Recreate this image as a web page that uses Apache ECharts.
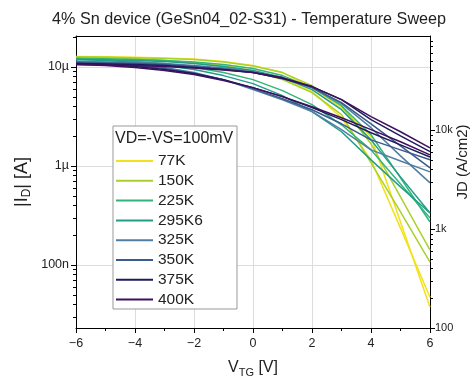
<!DOCTYPE html>
<html>
<head>
<meta charset="utf-8">
<script src="https://cdn.jsdelivr.net/npm/echarts@6/dist/echarts.min.js"></script>
<style>html,body{margin:0;padding:0;background:#fff}#c{width:471px;height:383px}</style>
</head>
<body>
<div id="c"></div>
<script>
// Gate voltage points (V)
var vtg = [-6, -5, -4, -3, -2, -1, 0, 1, 2, 3, 4, 5, 6];
// Temperatures (legend)
var temps = ['77K', '150K', '225K', '295K6', '325K', '350K', '375K', '400K'];
// |ID| in microamps, sweep A
var id77A   = [12.72, 12.63, 12.48, 12.28, 12.00, 11.32, 10.31, 8.75, 6.17, 3.87, 1.97, 0.271, 0.0373];
var id150A  = [12.57, 12.48, 12.34, 12.14, 11.86, 11.19, 10.19, 8.75, 6.46, 4.05, 1.67, 0.485, 0.141];
var id225A  = [12.14, 12.05, 11.86, 11.58, 11.19, 10.55, 9.61, 8.16, 6.17, 4.05, 2.06, 0.756, 0.271];
var id295A  = [11.86, 11.72, 11.58, 11.32, 10.80, 10.07, 9.17, 7.79, 5.89, 3.69, 1.83, 0.774, 0.334];
var id325A  = [11.32, 11.19, 11.06, 10.80, 10.31, 9.72, 8.96, 7.79, 6.17, 4.25, 2.43, 1.26, 0.673];
var id350A  = [11.06, 10.93, 10.80, 10.55, 10.07, 9.50, 8.75, 7.61, 6.17, 4.35, 2.66, 1.59, 0.954];
var id375A  = [10.80, 10.68, 10.55, 10.31, 9.84, 9.39, 8.75, 7.61, 6.32, 4.66, 2.93, 2.01, 1.39];
var id400A  = [10.55, 10.43, 10.31, 10.07, 9.72, 9.28, 8.75, 7.79, 6.32, 4.66, 3.14, 2.21, 1.52];
// |ID| in microamps, sweep B
var id77B   = [12.42, 12.28, 12.00, 11.58, 11.06, 10.31, 9.17, 7.61, 5.62, 3.06, 1.15, 0.235, 0.0471];
var id150B  = [12.57, 12.42, 12.14, 11.58, 10.93, 10.07, 8.96, 7.43, 5.49, 3.29, 1.07, 0.342, 0.1065];
var id225B  = [12.14, 11.86, 11.32, 10.80, 9.84, 8.75, 7.43, 5.75, 4.15, 2.60, 1.45, 0.657, 0.297];
var id295B  = [11.86, 11.58, 11.06, 10.31, 9.39, 8.16, 6.77, 5.12, 3.53, 2.21, 1.15, 0.613, 0.334];
var id325B  = [11.32, 11.06, 10.55, 9.84, 8.75, 7.43, 5.89, 4.66, 3.53, 2.32, 1.45, 1.12, 0.869];
var id350B  = [11.06, 10.80, 10.31, 9.61, 8.55, 7.43, 6.03, 4.77, 3.69, 2.66, 1.83, 1.45, 1.15];
var id375B  = [10.80, 10.55, 10.07, 9.39, 8.55, 7.43, 6.17, 5.00, 3.87, 2.93, 2.16, 1.63, 1.23];
var id400B  = [10.55, 10.31, 9.84, 9.17, 8.36, 7.26, 6.17, 5.00, 3.96, 3.06, 2.32, 1.75, 1.29];
// Axis ranges
var idMin = 2.3e-8, idMax = 2.05e-5;      // left axis (A)
var jdMin = 100, jdMax = 89130;           // right axis (A/cm2)
var colors = ['#f2e11c', '#a9d12b', '#33b47a', '#249c8a', '#4f7ea2', '#3a5a8e', '#1d1b5c', '#3f105e'];

var seriesA = [id77A, id150A, id225A, id295A, id325A, id350A, id375A, id400A];
var seriesB = [id77B, id150B, id225B, id295B, id325B, id350B, id375B, id400B];

var FONT = "'Liberation Sans', Arial, sans-serif";

function toPts(arr) { return vtg.map(function (v, i) { return [v, arr[i] * 1e-6]; }); }
function isDecade(v) { var l = Math.log10(v); return Math.abs(l - Math.round(l)) < 1e-6; }
function fmtSI(v) {
  if (!isDecade(v)) return '';
  var l = Math.round(Math.log10(v));
  var pref = { '-9': 'n', '-6': 'µ', '-3': 'm', '0': '', '3': 'k' };
  var base = Math.floor(l / 3) * 3;
  return Math.pow(10, l - base) + pref[String(base)];
}
// minor log tick values (2..9 x 10^n) inside a range
function minorVals(lo, hi) {
  var out = [];
  for (var e = Math.floor(Math.log10(lo)); e <= Math.ceil(Math.log10(hi)); e++) {
    for (var k = 2; k <= 9; k++) {
      var v = k * Math.pow(10, e);
      if (v > lo && v < hi) out.push(v);
    }
  }
  return out;
}

var series = [];
temps.forEach(function (t, i) {
  [seriesA[i], seriesB[i]].forEach(function (arr) {
    series.push({
      name: t, type: 'line', xAxisIndex: 0, yAxisIndex: 0,
      data: toPts(arr), symbol: 'none', smooth: false,
      lineStyle: { width: 1.5, color: colors[i] }, itemStyle: { color: colors[i] },
      emphasis: { disabled: true }, animation: false
    });
  });
});
// minor ticks of the log axes, placed through the axes' own scales
function tickSeries(yIdx, xEdge, dir, vals) {
  return {
    type: 'custom', name: 'minor' + yIdx, xAxisIndex: 0, yAxisIndex: yIdx, clip: false, silent: true, z: 5,
    data: vals.map(function (v) { return [xEdge, v]; }),
    renderItem: function (params, api) {
      var p = api.coord([api.value(0), api.value(1)]);
      var y = Math.round(p[1]) + 0.5;
      return { type: 'line', shape: { x1: p[0], y1: y, x2: p[0] + dir * 3, y2: y }, style: { stroke: '#000', lineWidth: 1 } };
    },
    animation: false
  };
}
series.push(tickSeries(0, -6, -1, minorVals(idMin, idMax)));
series.push(tickSeries(1, 6, 1, minorVals(jdMin, jdMax)));

var chart = echarts.init(document.getElementById('c'), null, { renderer: 'canvas' });
chart.setOption({
  animation: false,
  textStyle: { fontFamily: FONT },
  title: {
    text: '4% Sn device (GeSn04_02-S31) - Temperature Sweep',
    left: 47, top: 7,
    textStyle: { fontSize: 16.2, fontWeight: 'normal', color: '#222', fontFamily: FONT }
  },
  grid: { left: 76, right: 41, top: 36, bottom: 55, containLabel: false, outerBoundsMode: 'none' },
  xAxis: [{
    type: 'value', min: -6, max: 6, interval: 2, position: 'bottom',
    name: '{v|V}{s|TG}{v| [V]}', nameLocation: 'middle', nameGap: 30, nameMoveOverlap: false,
    nameTextStyle: { rich: { v: { fontSize: 16, color: '#222', fontFamily: FONT }, s: { fontSize: 11, color: '#222', verticalAlign: 'bottom', padding: [9, 0, 0, 0], fontFamily: FONT } } },
    axisLine: { show: true, lineStyle: { color: '#000', width: 1 } },
    axisTick: { show: true, length: 5, lineStyle: { color: '#000' } },
    minorTick: { show: true, splitNumber: 2, length: 3, lineStyle: { color: '#000' } },
    axisLabel: { fontSize: 12.5, color: '#222', margin: 9, formatter: function (v) { return String(v).replace('-', '\u2212'); } },
    splitLine: { show: true, lineStyle: { color: '#dcdcdc', width: 1 } }
  }, {
    type: 'value', min: -6, max: 6, position: 'top',
    axisLine: { show: true, lineStyle: { color: '#000', width: 1 } },
    axisTick: { show: false }, axisLabel: { show: false }, splitLine: { show: false }
  }],
  yAxis: [{
    type: 'log', min: idMin, max: idMax, position: 'left', logBase: 10,
    name: '{t||I}{s|D}{t|| [A]}', nameLocation: 'middle', nameGap: 43, nameRotate: 90, nameMoveOverlap: false,
    nameTextStyle: { rich: { t: { fontSize: 18, color: '#222', fontFamily: FONT }, s: { fontSize: 12, color: '#222', padding: [10, 0, 0, 0], fontFamily: FONT } } },
    axisLine: { show: true, onZero: false, lineStyle: { color: '#000', width: 1 } },
    axisTick: { show: true, length: 5, lineStyle: { color: '#000' } },
    axisLabel: { fontSize: 12.5, color: '#222', margin: 7, formatter: fmtSI, showMinLabel: false, showMaxLabel: false },
    splitLine: { show: true, lineStyle: { color: '#dcdcdc', width: 1 } }
  }, {
    type: 'log', min: jdMin, max: jdMax, position: 'right', logBase: 10,
    name: 'JD (A/cm2)', nameLocation: 'middle', nameGap: 25, nameRotate: 90, nameMoveOverlap: false,
    nameTextStyle: { fontSize: 15, color: '#222', fontFamily: FONT, padding: [0, 0, 0, 40] },
    axisLine: { show: true, onZero: false, lineStyle: { color: '#000', width: 1 } },
    axisTick: { show: true, length: 5, lineStyle: { color: '#000' } },
    axisLabel: { fontSize: 11, color: '#222', margin: 5, formatter: fmtSI, showMaxLabel: false },
    splitLine: { show: false }
  }],
  legend: {
    orient: 'vertical', left: 113, top: 126,
    padding: [27, 4, 4, 2],
    itemWidth: 37, itemHeight: 14, itemGap: 3.8,
    data: temps,
    itemStyle: { color: 'rgba(0,0,0,0)', borderWidth: 0, borderColor: 'rgba(0,0,0,0)' },
    textStyle: { fontSize: 15.5, color: '#222', fontFamily: FONT },
    selectedMode: false
  },
  graphic: [{
    type: 'rect', z: 1, shape: { x: 113, y: 126, width: 124, height: 183 },
    style: { fill: '#fff', stroke: '#999', lineWidth: 1 }, silent: true
  }, {
    type: 'text', z: 10, x: 115, y: 131,
    style: { text: 'VD=-VS=100mV', fontSize: 16, fill: '#222', fontFamily: FONT }, silent: true
  }],
  series: series
});
</script>
</body>
</html>
